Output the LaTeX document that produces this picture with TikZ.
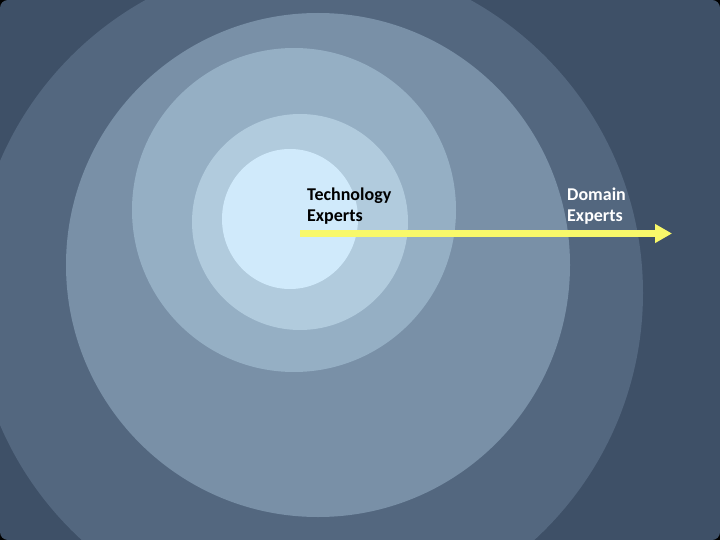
\documentclass[tikz,border=0pt]{standalone}
\usepackage{fontspec}
\setmainfont{Carlito}
\usepackage{xcolor}
\usetikzlibrary{arrows.meta}

\definecolor{slateBg}{HTML}{3E5067}
\definecolor{ringA}{HTML}{53677F}
\definecolor{ringB}{HTML}{7990A7}
\definecolor{ringC}{HTML}{95AFC4}
\definecolor{ringD}{HTML}{B1CBDD}
\definecolor{ringE}{HTML}{D0EAFB}
\definecolor{arrowYellow}{HTML}{F8F86A}

\begin{document}
\begin{tikzpicture}[x=1pt,y=-1pt,
    ring/.style={fill=#1,draw=none},
    label node/.style={font=\bfseries\fontsize{18}{20.5}\selectfont,align=left,anchor=north west,inner sep=0pt}]

            % frame
            \fill[black] (0,0) rectangle (720,540);
            \fill[slateBg,rounded corners=8pt] (0,0) rectangle (720,540);

            \begin{scope}
                \clip[rounded corners=8pt] (0,0) rectangle (720,540);
                \fill[ring=ringA] (308,293) circle (335);
                \fill[ring=ringB] (318,265) circle (252);
                \fill[ring=ringC] (294,210) circle (162);
                \fill[ring=ringD] (300,222) circle (108);
                \fill[ring=ringE] (290,219) ellipse (68 and 70);
            \end{scope}

            \node[label node,text=black] (tech) at (307,188) {Technology\\Experts};
            \node[label node,text=white] (domain) at (567,188) {Domain\\Experts};

            \coordinate (start) at (300,233.5);
            \coordinate (end) at (672,233.5);

            \draw[arrowYellow,line width=7pt,-{Triangle[length=17pt,width=18pt]}] (start) -- (end);
        \end{tikzpicture}
\end{document}
